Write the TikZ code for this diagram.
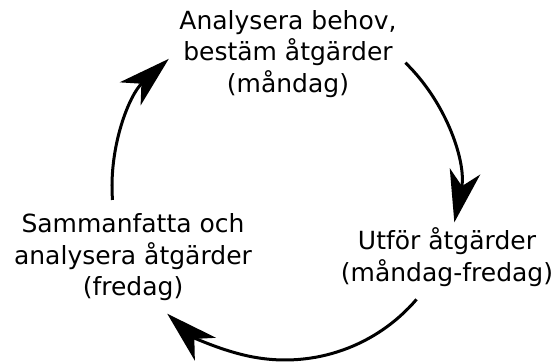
\documentclass[tikz,border=0pt]{standalone}
\usepackage{fontspec}
\setmainfont{DejaVu Sans}
\usetikzlibrary{arrows.meta}
\begin{document}
\begin{tikzpicture}[x=1pt,y=1pt,
  lbl/.style={align=center, inner sep=0pt, font=\fontsize{25}{31.5}\selectfont, text=black},
  arr/.style={line width=3pt, -{Stealth[length=52pt,width=31pt,inset=15pt]}}]
\useasboundingbox (0,0) rectangle (555,363);
\node[lbl] (top) at (288,309) {Analysera behov,\\bestäm åtgärder\\(måndag)};
\node[lbl] (right) at (447,106) {Utför åtgärder\\(måndag-fredag)};
\node[lbl] (left) at (133,105.4) {Sammanfatta och\\analysera åtgärder\\(fredag)};
\coordinate (o) at (285,176);
\coordinate (s1) at ([shift={(45.9:173pt)}]o);
\coordinate (s2) at ([shift={(-40.5:173pt)}]o);
\coordinate (s3) at ([shift={(184.3:173pt)}]o);
\draw[arr] (s1) arc[start angle=45.9, end angle=-11.8, radius=173pt];
\draw[arr] (s2) arc[start angle=-40.5, end angle=-132.9, radius=173pt];
\draw[arr] (s3) arc[start angle=184.3, end angle=132.2, radius=173pt];
\end{tikzpicture}
\end{document}
